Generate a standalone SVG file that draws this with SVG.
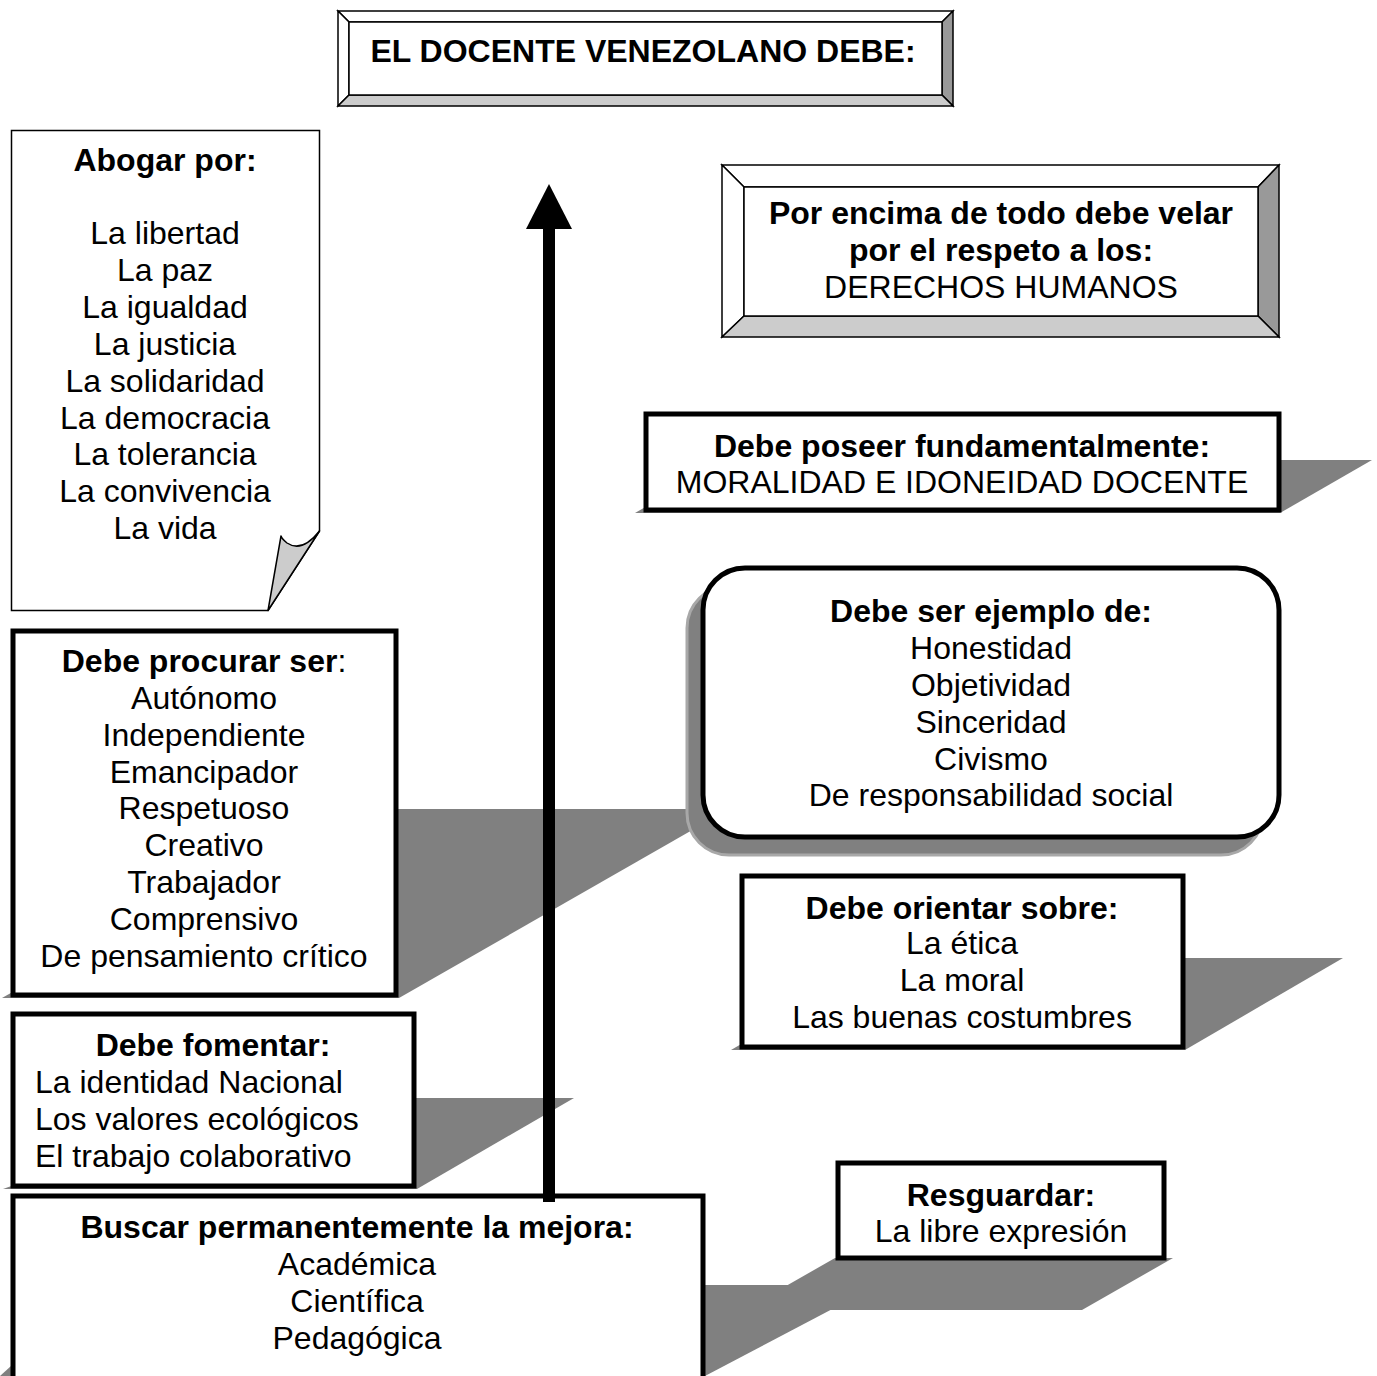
<svg xmlns="http://www.w3.org/2000/svg" width="1377" height="1376" viewBox="0 0 1377 1376">
<style>
.t{font-family:"Liberation Sans",Arial,Helvetica,sans-serif;font-size:32px;fill:#000;text-anchor:middle}
.l{text-anchor:start}
.b{font-weight:bold}
.box{fill:#fff;stroke:#000;stroke-width:5}
.sh{fill:#808080}
.bv{stroke:#000;stroke-width:1.5;stroke-linejoin:miter}
.w{fill:#fff}.g1{fill:#999}.g2{fill:#ccc}
</style>
<rect width="1377" height="1376" fill="#fff"/>

<g id="shadows">
<polygon class="sh" points="2,998 334,809 729,809 399,998"/>
<polygon class="sh" points="3,1189 257,1098 574,1098 417,1189"/>
<polygon class="sh" points="100,1285 878,1285 705,1376 0,1376"/>
<polygon class="sh" points="835,1258 1173,1258 1082,1310 744,1310"/>
<polygon class="sh" points="635,513 727,460 1372,460 1280,513"/>
<polygon class="sh" points="731,1050 889,958 1343,958 1185,1050"/>
<rect x="687" y="586" width="576" height="269" rx="42" fill="#808080" stroke="#a8a8a8" stroke-width="3"/>
</g>

<g id="title">
<polygon class="bv w" points="338,11 953,11 942,22 349,22"/>
<polygon class="bv w" points="338,11 349,22 349,95 338,106"/>
<polygon class="bv g1" points="953,11 953,106 942,95 942,22"/>
<polygon class="bv g2" points="338,106 953,106 942,95 349,95"/>
<rect class="bv w" x="349" y="22" width="593" height="73"/>
<text class="t b" x="643" y="62">EL DOCENTE VENEZOLANO DEBE:</text>
</g>

<g id="abogar">
<path d="M11.5,130.5 H319.5 V531 L268,610.5 H11.5 Z" fill="#fff" stroke="#000" stroke-width="1.5"/>
<path d="M319.5,531 Q302,553 287,543 Q282,539 281,536 L268,610.5 Z" fill="#ccc" stroke="#000" stroke-width="1.5" stroke-linejoin="round"/>
<text class="t b" x="165" y="171">Abogar por:</text>
<text class="t" x="165" y="244">La libertad</text>
<text class="t" x="165" y="281">La paz</text>
<text class="t" x="165" y="318">La igualdad</text>
<text class="t" x="165" y="355">La justicia</text>
<text class="t" x="165" y="392">La solidaridad</text>
<text class="t" x="165" y="429">La democracia</text>
<text class="t" x="165" y="465">La tolerancia</text>
<text class="t" x="165" y="502">La convivencia</text>
<text class="t" x="165" y="539">La vida</text>
</g>

<g id="derechos">
<polygon class="bv w" points="722,165 1279,165 1258,187 744,187"/>
<polygon class="bv w" points="722,165 744,187 744,316 722,337"/>
<polygon class="bv g1" points="1279,165 1279,337 1258,316 1258,187"/>
<polygon class="bv g2" points="722,337 1279,337 1258,316 744,316"/>
<rect class="bv w" x="744" y="187" width="514" height="129"/>
<text class="t b" x="1001" y="224">Por encima de todo debe velar</text>
<text class="t b" x="1001" y="261">por el respeto a los:</text>
<text class="t" x="1001" y="298">DERECHOS HUMANOS</text>
</g>

<g id="poseer">
<rect class="box" x="646" y="414" width="633" height="96"/>
<text class="t b" x="962" y="457">Debe poseer fundamentalmente:</text>
<text class="t" x="962" y="493">MORALIDAD E IDONEIDAD DOCENTE</text>
</g>

<g id="ejemplo">
<rect class="box" x="703" y="568" width="576" height="269" rx="42"/>
<text class="t b" x="991" y="622">Debe ser ejemplo de:</text>
<text class="t" x="991" y="659">Honestidad</text>
<text class="t" x="991" y="696">Objetividad</text>
<text class="t" x="991" y="733">Sinceridad</text>
<text class="t" x="991" y="770">Civismo</text>
<text class="t" x="991" y="806">De responsabilidad social</text>
</g>

<g id="procurar">
<rect class="box" x="13" y="631" width="383" height="364"/>
<text class="t" x="204" y="672"><tspan class="b">Debe procurar ser</tspan>:</text>
<text class="t" x="204" y="709">Autónomo</text>
<text class="t" x="204" y="746">Independiente</text>
<text class="t" x="204" y="783">Emancipador</text>
<text class="t" x="204" y="819">Respetuoso</text>
<text class="t" x="204" y="856">Creativo</text>
<text class="t" x="204" y="893">Trabajador</text>
<text class="t" x="204" y="930">Comprensivo</text>
<text class="t" x="204" y="967">De pensamiento crítico</text>
</g>

<g id="orientar">
<rect class="box" x="742" y="876" width="441" height="171"/>
<text class="t b" x="962" y="919">Debe orientar sobre:</text>
<text class="t" x="962" y="954">La ética</text>
<text class="t" x="962" y="991">La moral</text>
<text class="t" x="962" y="1028">Las buenas costumbres</text>
</g>

<g id="fomentar">
<rect class="box" x="13" y="1014" width="401" height="172"/>
<text class="t b" x="213" y="1056">Debe fomentar:</text>
<text class="t l" x="35" y="1093">La identidad Nacional</text>
<text class="t l" x="35" y="1130">Los valores ecológicos</text>
<text class="t l" x="35" y="1167">El trabajo colaborativo</text>
</g>

<g id="resguardar">
<rect class="box" x="838" y="1163" width="326" height="95"/>
<text class="t b" x="1001" y="1206">Resguardar:</text>
<text class="t" x="1001" y="1242">La libre expresión</text>
</g>

<g id="buscar">
<rect class="box" x="13" y="1196" width="690" height="200"/>
<text class="t b" x="357" y="1238">Buscar permanentemente la mejora:</text>
<text class="t" x="357" y="1275">Académica</text>
<text class="t" x="357" y="1312">Científica</text>
<text class="t" x="357" y="1349">Pedagógica</text>
</g>

<g id="connectors">
<rect x="543" y="228" width="12" height="974" fill="#000"/>
<polygon points="549,184 572,229 526,229" fill="#000"/>
</g>
</svg>
